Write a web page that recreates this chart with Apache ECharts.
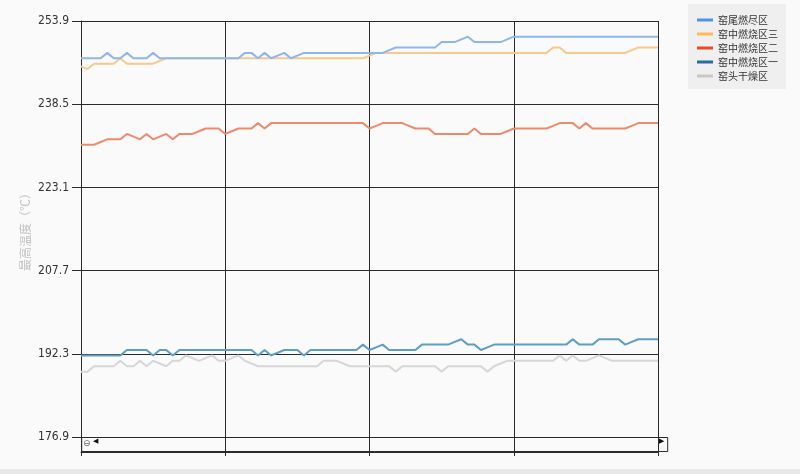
<!DOCTYPE html>
<html>
<head>
<meta charset="utf-8">
<script src="https://cdn.jsdelivr.net/npm/echarts@6/dist/echarts.min.js"></script>
<style>
html,body{margin:0;padding:0;background:#fafafa;}
#c{width:800px;height:474px;}
</style>
</head>
<body>
<div id="c"></div>
<script>
// ---------- DATA ----------
const seriesNames = ['窑尾燃尽区', '窑中燃烧区三', '窑中燃烧区二', '窑中燃烧区一', '窑头干燥区'];
const yAxisName = '最高温度（℃）';
const yMin = 176.9, yMax = 253.9, yStep = 15.4;   // ticks: 176.9 192.3 207.7 223.1 238.5 253.9

const kilnTail = [
  247,247,247,247,248,247,247,248,247,247,
  247,248,247,247,247,247,247,247,247,247,
  247,247,247,247,247,248,248,247,248,247,
  247.5,248,247,247.5,248,248,248,248,248,248,
  248,248,248,248,248,248,248,248.5,249,249,
  249,249,249,249,249,250,250,250,250.5,251,
  250,250,250,250,250,250.5,251,251,251,251,
  251,251,251,251,251,251,251,251,251,251,
  251,251,251,251,251,251,251,251,251
];
const kilnMid3 = [
  245.5,245,246,246,246,246,247,246,246,246,
  246,246,246.5,247,247,247,247,247,247,247,
  247,247,247,247,247,247,247,247,247,247,
  247,247,247,247,247,247,247,247,247,247,
  247,247,247,247,247.5,248,248,248,248,248,
  248,248,248,248,248,248,248,248,248,248,
  248,248,248,248,248,248,248,248,248,248,
  248,248,249,249,248,248,248,248,248,248,
  248,248,248,248,248.5,249,249,249,249
];
const kilnMid2 = [
  231,231,231,231.5,232,232,232,233,232.5,232,
  233,232,232.5,233,232,233,233,233,233.5,234,
  234,234,233,233.5,234,234,234,235,234,235,
  235,235,235,235,235,235,235,235,235,235,
  235,235,235,235,234,234.5,235,235,235,235,
  234.5,234,234,234,233,233,233,233,233,233,
  234,233,233,233,233,233.5,234,234,234,234,
  234,234,234.5,235,235,235,234,235,234,234,
  234,234,234,234,234.5,235,235,235,235
];
const kilnMid1 = [
  192,192,192,192,192,192,192,193,193,193,
  193,192,193,193,192,193,193,193,193,193,
  193,193,193,193,193,193,193,192,193,192,
  192.5,193,193,193,192,193,193,193,193,193,
  193,193,193,194,193,193.5,194,193,193,193,
  193,193,194,194,194,194,194,194.5,195,194,
  194,193,193.5,194,194,194,194,194,194,194,
  194,194,194,194,194,195,194,194,194,195,
  195,195,195,194,194.5,195,195,195,195
];
const kilnHead = [
  189,189,190,190,190,190,191,190,190,191,
  190,191,190.5,190,191,191,192,191.5,191,191.5,
  192,191,191,191.5,192,191,190.5,190,190,190,
  190,190,190,190,190,190,190,191,191,191,
  190.5,190,190,190,190,190,190,190,189,190,
  190,190,190,190,190,189,190,190,190,190,
  190,190,189,190,190.5,191,191,191,191,191,
  191,191,191,192,191,192,191,191,191.5,192,
  191.5,191,191,191,191,191,191,191,191
];
// category labels (not displayed in the reference): sample index
const categories = kilnTail.map((_, i) => String(i + 1));

const seriesData = [kilnTail, kilnMid3, kilnMid2, kilnMid1, kilnHead];
const lineColors = ['#8db6ec', '#f8c98c', '#ee8a6c', '#5e9ec2', '#d6d6d6'];
const legendColors = ['#4d94e8', '#fbbb58', '#e84a22', '#2a6a9c', '#c8c8c8'];

// ---------- CHART ----------
const chart = echarts.init(document.getElementById('c'), null, {renderer: 'canvas'});
const AX = '#2a2a2a';
const NUMFONT = "'Liberation Sans Narrow','DejaVu Sans Condensed','Liberation Sans',sans-serif";
const CJK = "'Noto Sans CJK SC','Noto Sans',sans-serif";

const option = {
  animation: false,
  backgroundColor: '#fafafa',
  grid: {left: 81, right: 142, top: 21, bottom: 37, containLabel: false},
  legend: {
    orient: 'vertical', left: 688, top: 4,
    padding: [9, 8, 6, 9],
    backgroundColor: '#efefef',
    itemWidth: 16, itemHeight: 3, itemGap: 0,
    icon: 'rect',
    textStyle: {fontSize: 10, color: '#333', fontFamily: CJK, lineHeight: 14},
    data: seriesNames.map((n, i) => ({name: n, itemStyle: {color: legendColors[i]}}))
  },
  xAxis: [{
    type: 'category', data: categories, boundaryGap: false, offset: 15,
    axisLine: {show: true, lineStyle: {color: AX, width: 1}},
    axisTick: {show: true, inside: true, length: 15, interval: 21, lineStyle: {color: AX}},
    axisLabel: {show: false},
    splitLine: {show: true, interval: 21, lineStyle: {color: AX, width: 1}}
  }, {
    type: 'category', data: categories, boundaryGap: false, offset: 15, position: 'bottom',
    axisLine: {show: false},
    axisTick: {show: true, inside: false, length: 4, interval: 21, lineStyle: {color: AX}},
    axisLabel: {show: false},
    splitLine: {show: false}
  }],
  yAxis: {
    type: 'value', min: yMin, max: yMax, interval: yStep,
    name: yAxisName, nameLocation: 'middle', nameGap: 50, nameMoveOverlap: false,
    nameTextStyle: {color: '#c2c2c2', fontSize: 12, fontFamily: CJK},
    axisLine: {show: true, lineStyle: {color: AX, width: 1}},
    axisTick: {show: true, length: 9, lineStyle: {color: AX}},
    axisLabel: {color: '#333', fontSize: 12, margin: 12, fontFamily: NUMFONT,
      formatter: v => v.toFixed(1)},
    splitLine: {show: true, lineStyle: {color: AX, width: 1}}
  },
  dataZoom: [{
    type: 'slider', xAxisIndex: 0, start: 0, end: 100,
    left: 81, right: 132, top: 437, height: 15,
    backgroundColor: 'rgba(0,0,0,0)', borderColor: AX, borderRadius: 0,
    fillerColor: 'rgba(0,0,0,0)',
    showDataShadow: false, showDetail: false, brushSelect: false,
    handleSize: 0, moveHandleSize: 0,
    handleStyle: {opacity: 0, borderWidth: 0},
    emphasis: {handleStyle: {opacity: 0}},
    zoomLock: true
  }],
  graphic: [
    {type: 'text', left: 83, top: 439, style: {text: '⊖', fontSize: 9, fill: '#666', fontFamily: 'DejaVu Sans'}, silent: true},
    {type: 'text', left: 93, top: 438, style: {text: '◀', fontSize: 7, fill: '#111', fontFamily: 'DejaVu Sans'}, silent: true},
    {type: 'text', left: 659, top: 438, style: {text: '▶', fontSize: 7, fill: '#111', fontFamily: 'DejaVu Sans'}, silent: true},
    {type: 'rect', shape: {x: 0, y: 469, width: 800, height: 5}, style: {fill: '#e8e8e8'}, silent: true}
  ],
  series: seriesNames.map((n, i) => ({
    name: n, type: 'line', data: seriesData[i],
    symbol: 'none', smooth: false,
    lineStyle: {color: lineColors[i], width: 2},
    itemStyle: {color: legendColors[i]},
    z: 10 - i
  }))
};
chart.setOption(option);
</script>
</body>
</html>
